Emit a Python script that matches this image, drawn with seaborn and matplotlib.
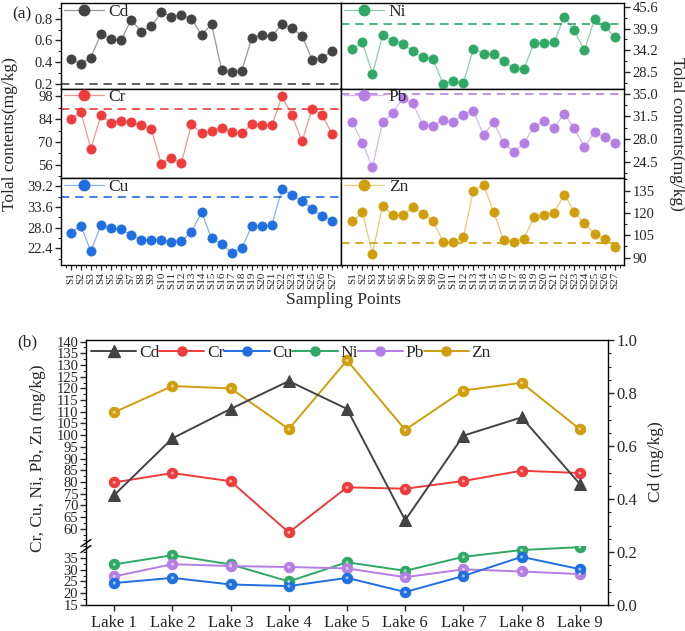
import numpy as np
import pandas as pd
import matplotlib
matplotlib.use("Agg")
import matplotlib.pyplot as plt
from matplotlib.lines import Line2D
from matplotlib.ticker import MultipleLocator, FormatStrFormatter
import seaborn as sns

sns.set_style("ticks")
plt.rcParams['font.family'] = ['Liberation Serif', 'DejaVu Serif']
plt.rcParams['axes.linewidth'] = 1.0

# ---------------- data: panel (a) ----------------
samples = [f"S{i}" for i in range(1, 28)]
cd_a = [0.43, 0.38, 0.44, 0.66, 0.61, 0.60, 0.79, 0.68, 0.73, 0.86, 0.82, 0.83, 0.80, 0.65,
        0.75, 0.33, 0.31, 0.32, 0.62, 0.65, 0.64, 0.75, 0.71, 0.64, 0.42, 0.44, 0.50]
ni_a = [34.4, 36.3, 27.9, 38.2, 36.7, 35.9, 33.9, 32.3, 31.8, 25.3, 26.0, 25.6, 34.6, 33.2,
        33.1, 31.3, 29.5, 29.3, 36.0, 36.0, 36.3, 43.0, 39.4, 34.2, 42.4, 40.5, 37.7]
cr_a = [84.0, 88.4, 65.9, 86.3, 81.9, 82.8, 82.1, 80.2, 78.0, 56.6, 60.3, 57.0, 80.9, 75.3,
        76.8, 78.8, 75.9, 75.5, 80.9, 80.2, 80.2, 98.0, 86.3, 70.4, 90.5, 86.7, 74.6]
pb_a = [30.7, 27.4, 23.7, 30.7, 32.0, 34.3, 33.5, 30.2, 30.1, 30.9, 30.7, 31.8, 32.4, 28.6,
        30.7, 27.4, 26.1, 27.4, 29.9, 30.8, 29.8, 31.9, 29.7, 26.8, 29.1, 28.4, 27.4]
cu_a = [26.6, 28.5, 21.6, 28.6, 27.8, 27.5, 26.0, 24.7, 24.7, 24.7, 24.2, 24.4, 26.8, 32.1,
        25.2, 23.5, 21.2, 22.4, 28.5, 28.5, 28.7, 38.4, 36.7, 35.2, 33.0, 31.2, 29.9]
zn_a = [114.3, 120.4, 92.7, 124.9, 118.4, 118.4, 124.2, 119.5, 114.8, 100.6, 100.6, 103.7,
        134.8, 139.1, 120.8, 101.5, 100.6, 102.8, 117.0, 118.8, 120.2, 132.4, 120.4, 113.0,
        106.0, 102.4, 97.0]
# background (dashed) reference values
ref_cd, ref_ni, ref_cr, ref_pb, ref_cu, ref_zn = 0.2, 41.0, 90.5, 35.0, 36.3, 100.0
# y tick values
ticks_cd = [0.2, 0.4, 0.6, 0.8]
ticks_ni = [28.5, 34.2, 39.9, 45.6]
ticks_cr = [56, 70, 84, 98]
ticks_pb = [24.5, 28.0, 31.5, 35.0]
ticks_cu = [22.4, 28.0, 33.6, 39.2]
ticks_zn = [90, 105, 120, 135]

# ---------------- data: panel (b) ----------------
lakes = [f"Lake {i}" for i in range(1, 10)]
cd_b = [0.415, 0.629, 0.74, 0.845, 0.74, 0.32, 0.639, 0.708, 0.457]
cr_b = [79.8, 83.8, 80.3, 58.4, 77.7, 77.1, 80.4, 84.8, 83.8]
cu_b = [24.3, 26.5, 23.7, 23.0, 26.5, 20.5, 27.3, 35.4, 30.2]
ni_b = [32.2, 36.1, 32.2, 25.0, 33.1, 29.5, 35.4, 38.3, 39.5]
pb_b = [27.1, 32.3, 31.5, 31.1, 30.5, 26.8, 30.1, 29.2, 28.1]
zn_b = [109.8, 121.0, 120.0, 102.6, 132.0, 102.3, 119.1, 122.4, 102.6]
ticks_b_upper = list(range(60, 141, 5))
ticks_b_lower = list(range(15, 36, 5))
ticks_b_cd = [0.0, 0.2, 0.4, 0.6, 0.8, 1.0]

colors = {"Cd": "#434343", "Cr": "#ee3b3b", "Cu": "#1f6fe0", "Ni": "#2fa866",
          "Pb": "#b57ee5", "Zn": "#d09e0c"}

W, H = 685, 631
fig = plt.figure(figsize=(W / 100, H / 100), dpi=100)


def px_axes(x0, y0, x1, y1):
    return fig.add_axes([x0 / W, 1 - y1 / H, (x1 - x0) / W, (y1 - y0) / H])


def lighten(c, f=0.5):
    r, g, b = matplotlib.colors.to_rgb(c)
    return (r + (1 - r) * f, g + (1 - g) * f, b + (1 - b) * f)


# ---------------- panel (a) ----------------
rows = [(3, 88.5), (88.5, 178), (178, 265)]
cols = [(61, 341), (341, 624)]
panels = [
    ("Cd", cd_a, ref_cd, ticks_cd, (0.155, 0.945), "%.1f", 0, 0),
    ("Ni", ni_a, ref_ni, ticks_ni, (24.1, 46.65), "%.1f", 0, 1),
    ("Cr", cr_a, ref_cr, ticks_cr, (47.9, 102.8), "%d", 1, 0),
    ("Pb", pb_a, ref_pb, ticks_pb, (22.05, 35.8), "%.1f", 1, 1),
    ("Cu", cu_a, ref_cu, ticks_cu, (17.9, 41.4), "%.1f", 2, 0),
    ("Zn", zn_a, ref_zn, ticks_zn, (85.0, 143.5), "%d", 2, 1),
]
idx = np.arange(len(samples))
for name, vals, ref, ticks, ylim, fmt, r, c in panels:
    x0, x1 = cols[c]
    y0, y1 = rows[r]
    ax = px_axes(x0, y0, x1, y1)
    col = colors[name]
    df = pd.DataFrame({"x": idx, "y": vals})
    sns.lineplot(data=df, x="x", y="y", ax=ax, color=lighten(col, 0.45), lw=0.9)
    sns.scatterplot(data=df, x="x", y="y", ax=ax, color=col, edgecolor=col, s=44, zorder=3)
    ax.axhline(ref, color=col, lw=1.2, ls=(0, (5, 3.5)))
    ax.set_ylim(*ylim)
    ax.set_xlim((-0.97, 26.87) if c == 0 else (-1.12, 26.92))
    ax.set_yticks(ticks)
    ax.yaxis.set_major_formatter(FormatStrFormatter(fmt))
    ax.yaxis.set_minor_locator(MultipleLocator((ticks[1] - ticks[0]) / 2))
    ax.set_xlabel("")
    ax.set_ylabel("")
    if c == 1:
        ax.yaxis.tick_right()
        ax.yaxis.set_label_position("right")
    ax.tick_params(axis="y", which="major", direction="out", length=4, width=1,
                   labelsize=10.5, pad=2)
    ax.tick_params(axis="y", which="minor", direction="out", length=2.2, width=0.8)
    if r == 2:
        ax.set_xticks(idx)
        ax.set_xticklabels(samples, rotation=90, fontsize=8)
        ax.xaxis.set_minor_locator(MultipleLocator(0.5))
        ax.tick_params(axis="x", which="major", direction="out", length=3.5, width=0.9, pad=1.5)
        ax.tick_params(axis="x", which="minor", direction="out", length=2, width=0.7)
    else:
        ax.set_xticks([])
        ax.tick_params(axis="x", which="both", bottom=False, labelbottom=False)
    for sp in ax.spines.values():
        sp.set_visible(True)
        sp.set_color("black")
        sp.set_linewidth(1.0)
    h = Line2D([], [], color=lighten(col, 0.45), lw=0.9, marker="o", markersize=7.5,
               markerfacecolor=col, markeredgecolor=col)
    ax.legend([h], [name], loc="upper left", bbox_to_anchor=(0, 1.02), frameon=False,
              borderaxespad=0, borderpad=0.15, handlelength=2.3, handletextpad=0.3,
              fontsize=12.5, numpoints=1)

fig.text(10 / W, 1 - 134 / H, "Tolal contents(mg/kg)", rotation=90, ha="center",
         va="center", fontsize=12.5)
fig.text(677 / W, 1 - 134 / H, "Tolal contents(mg/kg)", rotation=270, ha="center",
         va="center", fontsize=12.5)
fig.text(22 / W, 1 - 14 / H, "(a)", ha="center", va="center", fontsize=12.5)
fig.text(343 / W, 1 - 300 / H, "Sampling Points", ha="center", va="center", fontsize=12.5)

# ---------------- panel (b) ----------------
bx0, bx1 = 86, 608
ytop, ybrk, ybot = 340, 546, 605
ax_up = px_axes(bx0, ytop, bx1, ybrk)
ax_lo = px_axes(bx0, ybrk, bx1, ybot)
ax_cd = px_axes(bx0, ytop, bx1, ybot)
ax_cd.patch.set_alpha(0)
xl = (-0.485, 8.485)
lidx = np.arange(len(lakes))


def lake_line(ax, vals, name, marker="o", ms=7.5):
    col = colors[name]
    df = pd.DataFrame({"x": lidx, "y": vals})
    sns.lineplot(data=df, x="x", y="y", ax=ax, color=col, lw=1.4, marker=marker,
                 markersize=ms, markeredgecolor=col, markerfacecolor=col)
    # small highlight for the ball-like markers
    if marker == "o":
        sns.scatterplot(data=df, x="x", y="y", ax=ax, color=lighten(col, 0.55), s=5,
                        edgecolor="none", zorder=5)


lake_line(ax_up, cr_b, "Cr")
lake_line(ax_up, zn_b, "Zn")
lake_line(ax_lo, ni_b, "Ni")
lake_line(ax_lo, pb_b, "Pb")
lake_line(ax_lo, cu_b, "Cu")
lake_line(ax_cd, cd_b, "Cd", marker="^", ms=8.5)

for ax in (ax_up, ax_lo, ax_cd):
    ax.set_xlim(*xl)
    ax.set_xlabel("")
    ax.set_ylabel("")

ax_up.set_ylim(52.6, 140.7)
ax_lo.set_ylim(15, 40)
ax_cd.set_ylim(0, 1)

ax_up.set_yticks(ticks_b_upper)
ax_up.yaxis.set_minor_locator(MultipleLocator(2.5))
ax_lo.set_yticks(ticks_b_lower)
ax_lo.yaxis.set_minor_locator(MultipleLocator(2.5))
for ax in (ax_up, ax_lo):
    ax.tick_params(axis="y", which="major", direction="out", length=4, width=1,
                   labelsize=10.5, pad=1.5)
    ax.tick_params(axis="y", which="minor", direction="out", length=2.2, width=0.8)
    ax.spines["right"].set_visible(False)

ax_up.set_xticks([])
ax_up.tick_params(axis="x", which="both", bottom=False, labelbottom=False)
ax_up.spines["bottom"].set_visible(False)
ax_up.spines["top"].set_visible(False)
ax_lo.spines["top"].set_visible(False)
ax_lo.set_xticks(lidx)
ax_lo.set_xticklabels(lakes, fontsize=12)
ax_lo.tick_params(axis="x", direction="out", length=4, width=1, pad=3)

ax_cd.yaxis.tick_right()
ax_cd.set_yticks(ticks_b_cd)
ax_cd.yaxis.set_major_formatter(FormatStrFormatter("%.1f"))
ax_cd.yaxis.set_minor_locator(MultipleLocator(0.05))
ax_cd.tick_params(axis="y", which="major", direction="out", length=4, width=1,
                  labelsize=12, pad=2)
ax_cd.tick_params(axis="y", which="minor", direction="out", length=2.2, width=0.8)
ax_cd.set_xticks([])
ax_cd.tick_params(axis="x", which="both", bottom=False, labelbottom=False)
ax_cd.spines["left"].set_visible(False)
ax_cd.spines["bottom"].set_visible(False)
for ax in (ax_up, ax_lo, ax_cd):
    for sp in ax.spines.values():
        sp.set_color("black")
        sp.set_linewidth(1.0)

# axis break marks on the left spine
for dy in (-3.0, 3.0):
    fig.add_artist(Line2D([(bx0 - 5) / W, (bx0 + 5) / W],
                          [1 - (ybrk + dy + 3.5) / H, 1 - (ybrk + dy - 3.5) / H],
                          color="black", lw=1.0))

handles = []
for name in ["Cd", "Cr", "Cu", "Ni", "Pb", "Zn"]:
    col = colors[name]
    handles.append(Line2D([], [], color=col, lw=1.4, marker="^" if name == "Cd" else "o",
                          markersize=8 if name == "Cd" else 6.5,
                          markerfacecolor=col, markeredgecolor=col))
ax_cd.legend(handles, ["Cd", "Cr", "Cu", "Ni", "Pb", "Zn"], loc="upper left",
             bbox_to_anchor=(0.0, 1.0), ncol=6, frameon=False, fontsize=12.5,
             handlelength=2.6, handletextpad=0.15, columnspacing=0.0,
             borderaxespad=0.1, borderpad=0.2, numpoints=1)

fig.text(38 / W, 1 - 458 / H, "Cr, Cu, Ni, Pb, Zn (mg/kg)", rotation=90, ha="center",
         va="center", fontsize=12.5)
fig.text(656 / W, 1 - 462 / H, "Cd (mg/kg)", rotation=90, ha="center",
         va="center", fontsize=12.5)
fig.text(27 / W, 1 - 342 / H, "(b)", ha="center", va="center", fontsize=12.5)

fig.savefig("out.png", dpi=100)
